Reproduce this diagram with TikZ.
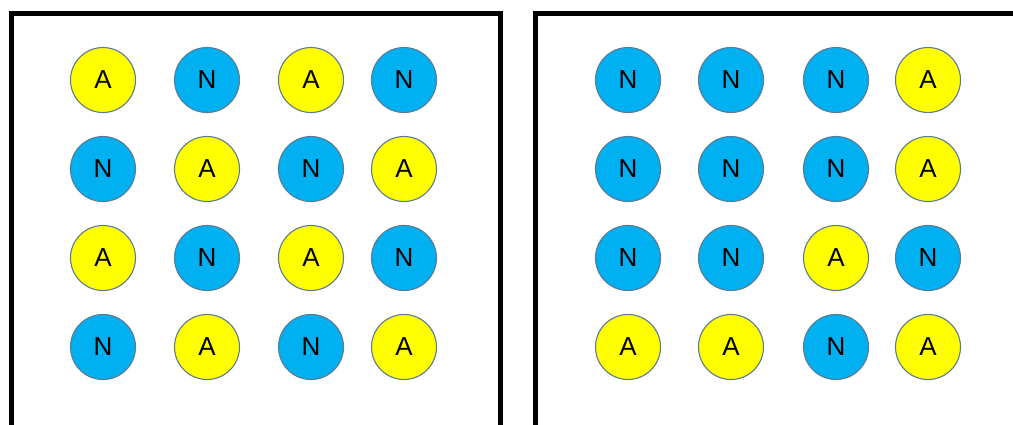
\documentclass[tikz,border=0pt]{standalone}
\usepackage{fontspec}
\setmainfont{Liberation Sans}
\definecolor{ayel}{HTML}{FFFF00}
\definecolor{nblu}{HTML}{00B0F0}
\definecolor{ring}{HTML}{5A7A95}
\tikzset{
  x=1pt,y=-1pt,
  dot/.style={circle,draw=ring,line width=1.1pt,minimum size=65pt,inner sep=0pt,font=\fontsize{26}{26}\selectfont,text=black},
  Anode/.style={dot,fill=ayel},
  Nnode/.style={dot,fill=nblu},
  frame/.style={draw=black,line width=5pt}
}
\begin{document}
\begin{tikzpicture}
\useasboundingbox (0,0) rectangle (1013,424);
\clip (0,0) rectangle (1013,424);
\draw[frame] (11,440) -- (11,13) -- (500,13) -- (500,440);
\draw[frame] (535,440) -- (535,13) -- (1030,13) -- (1030,440);
% left grid
\foreach \lab [count=\i from 0] in {A,N,A,N, N,A,N,A, A,N,A,N, N,A,N,A}{
  \pgfmathtruncatemacro{\r}{int(\i/4)}
  \pgfmathtruncatemacro{\c}{mod(\i,4)}
  \pgfmathsetmacro{\xx}{{103,207,311,404}[\c]}
  \pgfmathsetmacro{\yy}{{80,169,258,347}[\r]}
  \node[\lab node] (L-\r-\c) at (\xx,\yy) {\lab};
}
% right grid
\foreach \lab [count=\i from 0] in {N,N,N,A, N,N,N,A, N,N,A,N, A,A,N,A}{
  \pgfmathtruncatemacro{\r}{int(\i/4)}
  \pgfmathtruncatemacro{\c}{mod(\i,4)}
  \pgfmathsetmacro{\xx}{{628,731,836,928}[\c]}
  \pgfmathsetmacro{\yy}{{80,169,258,347}[\r]}
  \node[\lab node] (R-\r-\c) at (\xx,\yy) {\lab};
}
\end{tikzpicture}
\end{document}
